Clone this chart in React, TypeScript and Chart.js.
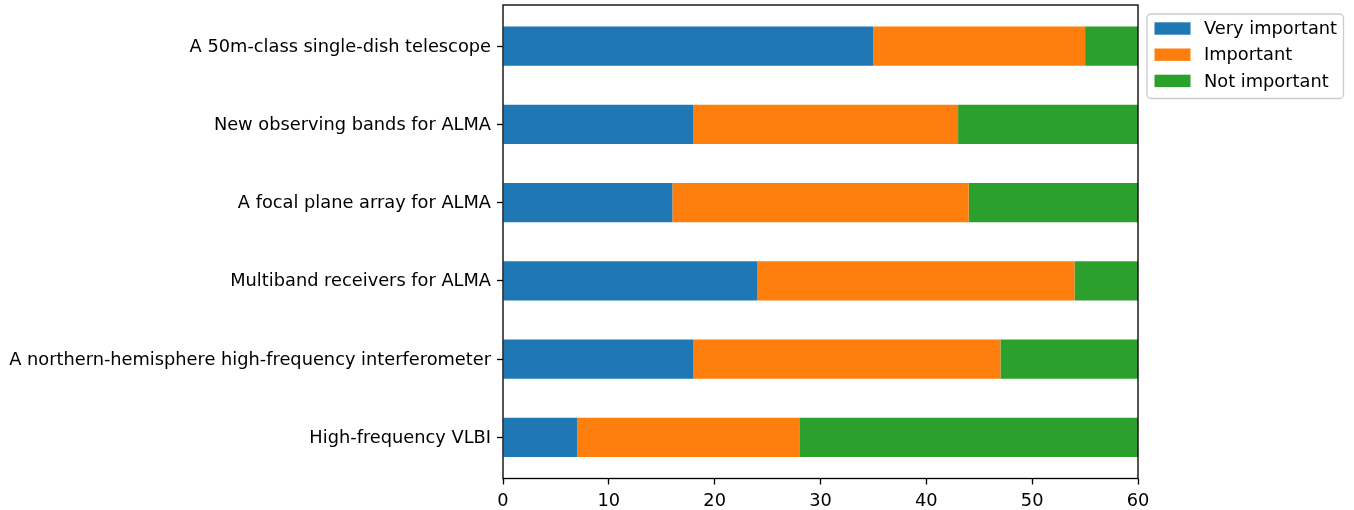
import React, { useEffect, useRef } from "react";
import { Chart, registerables } from "chart.js";

Chart.register(...registerables);

const categories = [
  "A 50m-class single-dish telescope",
  "New observing bands for ALMA",
  "A focal plane array for ALMA",
  "Multiband receivers for ALMA",
  "A northern-hemisphere high-frequency interferometer",
  "High-frequency VLBI",
];
const veryImportant = [35, 18, 16, 24, 18, 7];
const important = [20, 25, 28, 30, 29, 21];
const notImportant = [5, 17, 16, 6, 13, 32];
const seriesNames = ["Very important", "Important", "Not important"];
const seriesColors = ["#1f77b4", "#ff7f0e", "#2ca02c"];
const xTicks = [0, 10, 20, 30, 40, 50, 60];

const FONT = "DejaVu Sans";
const FS = 17.8;

const framePlugin = {
  id: "frame",
  afterDatasetsDraw(chart: any) {
    const { ctx, chartArea } = chart;
    ctx.save();
    ctx.strokeStyle = "#000";
    ctx.lineWidth = 1.33;
    ctx.strokeRect(chartArea.left, chartArea.top, chartArea.right - chartArea.left, chartArea.bottom - chartArea.top);
    ctx.restore();
  },
};

const legendPlugin = {
  id: "mplLegend",
  afterDraw(chart: any) {
    const { ctx } = chart;
    const x0 = chart.chartArea.right + 9;
    const y0 = 14;
    const w = 196.5;
    const h = 84.5;
    ctx.save();
    ctx.beginPath();
    const r = 4;
    ctx.moveTo(x0 + r, y0);
    ctx.lineTo(x0 + w - r, y0);
    ctx.arcTo(x0 + w, y0, x0 + w, y0 + r, r);
    ctx.lineTo(x0 + w, y0 + h - r);
    ctx.arcTo(x0 + w, y0 + h, x0 + w - r, y0 + h, r);
    ctx.lineTo(x0 + r, y0 + h);
    ctx.arcTo(x0, y0 + h, x0, y0 + h - r, r);
    ctx.lineTo(x0, y0 + r);
    ctx.arcTo(x0, y0, x0 + r, y0, r);
    ctx.closePath();
    ctx.fillStyle = "rgba(255,255,255,0.8)";
    ctx.fill();
    ctx.strokeStyle = "#cccccc";
    ctx.lineWidth = 1.33;
    ctx.stroke();
    ctx.font = `${FS}px "${FONT}"`;
    ctx.textBaseline = "middle";
    ctx.textAlign = "left";
    chart.data.datasets.forEach((ds: any, i: number) => {
      const cy = 28.5 + i * 26.2;
      ctx.fillStyle = ds.backgroundColor;
      ctx.fillRect(x0 + 7.5, cy - 6.2, 36, 12.4);
      ctx.fillStyle = "#000";
      ctx.fillText(ds.label, x0 + 57, cy + 1);
    });
    ctx.restore();
  },
};

export default function App() {
  const ref = useRef<HTMLCanvasElement | null>(null);
  useEffect(() => {
    if (!ref.current) return;
    const series = [veryImportant, important, notImportant];
    const chart = new Chart(ref.current, {
      type: "bar",
      data: {
        datasets: series.map((vals, si) => ({
          label: seriesNames[si],
          data: vals.map((v, i) => ({ x: v, y: i })),
          backgroundColor: seriesColors[si],
          borderWidth: 0,
          barPercentage: 0.5,
          categoryPercentage: 1,
        })),
      },
      options: {
        indexAxis: "y",
        responsive: false,
        animation: false,
        devicePixelRatio: 1,
        layout: { padding: { top: 5, right: 216, left: 0, bottom: 0 } },
        plugins: { legend: { display: false }, tooltip: { enabled: false } },
        scales: {
          x: {
            type: "linear",
            stacked: true,
            min: 0,
            max: 60,
            offset: false,
            afterFit(scale: any) {
              scale.height = 31.5;
              scale.paddingLeft = 0;
              scale.paddingRight = 0;
            },
            afterBuildTicks(scale: any) {
              scale.ticks = xTicks.map((v) => ({ value: v }));
            },
            grid: {
              offset: false,
              drawOnChartArea: false,
              drawTicks: true,
              tickLength: 6,
              tickColor: "#000",
              tickWidth: 1.33,
            },
            border: { display: false },
            ticks: {
              color: "#000",
              font: { family: FONT, size: FS },
              padding: 6,
              maxRotation: 0,
            },
          },
          y: {
            type: "linear",
            stacked: true,
            reverse: true,
            offset: false,
            min: -0.525,
            max: 5.525,
            afterFit(scale: any) {
              scale.width = 503;
              scale.paddingTop = 0;
              scale.paddingBottom = 0;
            },
            afterBuildTicks(scale: any) {
              scale.ticks = categories.map((_, i) => ({ value: i }));
            },
            grid: {
              offset: false,
              drawOnChartArea: false,
              drawTicks: true,
              tickLength: 6,
              tickColor: "#000",
              tickWidth: 1.33,
            },
            border: { display: false },
            ticks: {
              color: "#000",
              font: { family: FONT, size: FS },
              padding: 6,
              labelOffset: 1,
              autoSkip: false,
              callback: (v: any) => categories[Number(v)] ?? "",
            },
          },
        },
      },
      plugins: [framePlugin, legendPlugin],
    } as any);
    return () => chart.destroy();
  }, []);
  return (
    <div style={{ position: "absolute", left: 0, top: 0, width: 1354, height: 510, background: "#fff" }}>
      <canvas ref={ref} width={1354} height={510} style={{ width: 1354, height: 510, display: "block" }} />
    </div>
  );
}
